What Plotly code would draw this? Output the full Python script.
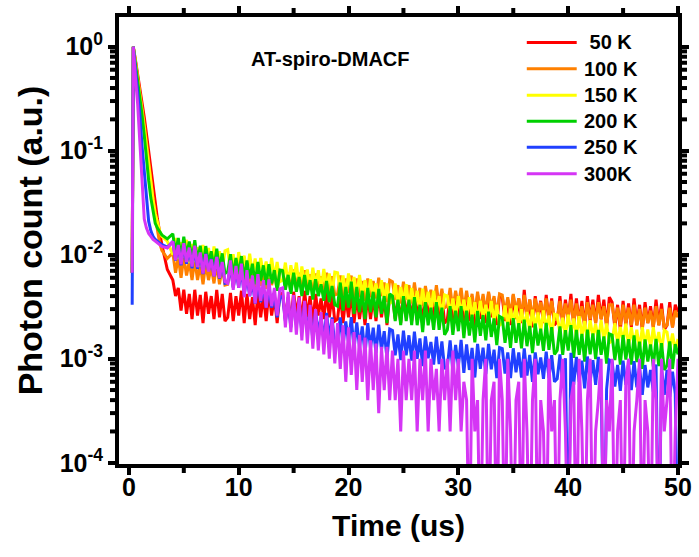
import plotly.graph_objects as go

# ---------------- data (photon count, in units of 1e-4; 0.1 = empty bin) ----------------
UNIT = 1e-4
TIME_EARLY = [0.3, 0.4, 0.6, 0.8, 1.0, 1.2, 1.4, 1.6, 1.8, 2.0, 2.2, 2.4, 2.6, 2.8, 3.0, 3.5]
TIME_LATE = [4.0 + 0.25 * i for i in range(185)]   # 4.0 ... 50.0 us, 0.25 us bins

LABELS = ["\u00a050 K", "100 K", "150 K", "200 K", "250 K", "300K"]
COLORS = ["#FF0000", "#FF8000", "#FFFF00", "#00D000", "#2040FF", "#D535F5"]

K50_EARLY = [67, 10000, 7400, 5500, 4100, 3100, 2100, 1450, 980, 680, 470, 320, 220, 165, 125, 72]
K50_LATE = [57, 40, 48, 29, 46, 27, 42, 24, 46, 26, 41, 22, 44, 27, 40, 24, 46, 25, 42, 23,
            25, 43, 23, 40, 26, 45, 22, 42, 24, 39, 21, 44, 25, 41, 23, 45, 26, 40, 22, 43,
            42, 24, 39, 22, 44, 26, 40, 23, 45, 25, 40, 22, 42, 26, 38, 24, 44, 25, 41, 23,
            24, 42, 22, 39, 25, 44, 22, 40, 24, 38, 21, 42, 24, 39, 23, 43, 25, 38, 21, 41,
            40, 24, 38, 22, 42, 25, 39, 23, 43, 24, 38, 21, 41, 25, 37, 23, 43, 24, 40, 22,
            24, 41, 22, 38, 24, 43, 21, 40, 23, 37, 20, 41, 24, 39, 22, 43, 25, 38, 21, 41,
            39, 23, 37, 21, 41, 24, 38, 22, 46, 23, 37, 20, 40, 25, 36, 22, 41, 23, 38, 21,
            23, 40, 21, 37, 24, 42, 21, 38, 22, 36, 20, 40, 23, 37, 22, 41, 24, 37, 20, 39,
            35, 20, 33, 19, 36, 21, 34, 20, 38, 21, 33, 19, 35, 22, 32, 20, 37, 21, 34, 19,
            21, 35, 20, 33, 28]

K100_EARLY = [67, 10000, 7200, 5200, 3800, 2700, 1800, 1200, 750, 500, 340, 230, 170, 130, 110, 92]
K100_LATE = [104, 67, 94, 60, 95, 63, 86, 57, 90, 57, 80, 52, 82, 57, 76, 53, 83, 52, 77, 51,
             52, 78, 49, 73, 53, 79, 48, 74, 50, 70, 46, 75, 50, 72, 47, 76, 51, 69, 45, 71,
             71, 48, 67, 44, 72, 48, 67, 45, 71, 46, 65, 42, 66, 46, 62, 43, 67, 43, 62, 41,
             42, 63, 40, 59, 43, 63, 38, 59, 39, 56, 36, 59, 39, 56, 38, 60, 40, 54, 35, 57,
             55, 37, 51, 34, 55, 37, 51, 34, 54, 35, 48, 32, 50, 35, 46, 32, 51, 32, 47, 31,
             32, 48, 30, 45, 32, 48, 29, 45, 30, 42, 27, 44, 29, 42, 28, 44, 30, 40, 26, 42,
             41, 27, 39, 26, 42, 28, 38, 26, 41, 26, 37, 24, 38, 27, 35, 25, 38, 25, 36, 24,
             24, 36, 23, 34, 25, 37, 22, 34, 23, 32, 21, 35, 24, 33, 22, 35, 24, 32, 21, 33,
             33, 22, 31, 21, 33, 22, 31, 21, 33, 21, 30, 20, 31, 22, 29, 20, 32, 21, 30, 20,
             21, 31, 20, 29, 25]

K150_EARLY = [67, 10000, 7000, 5000, 3600, 2500, 1650, 1100, 720, 480, 340, 250, 200, 170, 150, 135]
K150_LATE = [100, 145, 91, 132, 94, 139, 83, 127, 85, 118, 77, 124, 82, 116, 76, 120, 80, 108, 70, 109,
             112, 71, 101, 66, 106, 71, 98, 65, 102, 66, 92, 59, 93, 65, 86, 60, 93, 59, 85, 55,
             57, 84, 53, 79, 56, 84, 50, 77, 52, 72, 46, 75, 50, 71, 46, 73, 48, 66, 42, 68,
             67, 44, 63, 41, 66, 44, 61, 40, 64, 41, 57, 37, 58, 40, 53, 37, 57, 36, 53, 34,
             36, 53, 33, 49, 35, 52, 31, 48, 32, 45, 29, 47, 31, 44, 29, 45, 30, 40, 26, 41,
             40, 27, 38, 25, 40, 27, 37, 25, 39, 25, 35, 23, 36, 25, 33, 23, 36, 23, 33, 21,
             22, 32.5, 20.5, 30.3, 21.7, 32.5, 19.5, 29.9, 20.1, 28.1, 18.2, 29.6, 19.7, 27.8, 18.4, 29.1, 19.4, 26, 16.9, 26.8,
             26.2, 17.5, 24.8, 16.5, 26.5, 17.6, 24.4, 16.2, 25.6, 16.4, 23, 14.8, 23.4, 16.3, 21.6, 15.1, 23.5, 15, 21.8, 14.2,
             14.9, 21.9, 13.8, 20.3, 14.5, 21.8, 13, 20.1, 13.5, 19, 12.3, 20.1, 13.4, 19.1, 12.6, 20.1, 13.3, 18.1, 11.9, 18.8,
             18, 12.3, 17.5, 12, 15.5]

K200_EARLY = [67, 10000, 6800, 4800, 3300, 2200, 1400, 800, 520, 350, 250, 200, 180, 165, 155, 142]
K200_LATE = [159, 104, 145, 94, 149, 98, 134, 88, 138, 87, 122, 77, 121, 83, 108, 75, 114, 72, 103, 66,
             69, 101, 63, 93, 65, 97, 58, 88, 59, 82, 52, 85, 56, 79, 51, 81, 53, 71, 45, 71,
             70, 46, 64, 42, 67, 44, 61, 40, 64, 41, 57, 37, 58, 40, 52, 36, 56, 35, 50, 33,
             32, 54, 29, 49, 31, 55, 27, 49, 28, 45, 24, 48, 28, 44, 25, 47, 27, 40, 22, 42,
             40, 23, 37, 21, 40, 23, 37, 21, 39, 21, 33, 18, 35, 21, 31, 19, 35, 19, 31, 17,
             19, 32, 17, 29, 18.4, 32, 15.8, 29, 16.7, 26.5, 14.4, 28.8, 16.6, 26.3, 15, 28.3, 16.2, 24.4, 13.5, 25.5,
             24.7, 14.2, 22.6, 12.7, 24.5, 14.2, 22, 12.6, 23.8, 13.2, 20.7, 11.3, 21.8, 13.4, 19.4, 11.9, 22.1, 12.2, 20.1, 11,
             12, 20.4, 10.9, 18.8, 12, 21, 10.2, 18.9, 10.9, 17.3, 9.4, 19, 11, 17.5, 9.9, 18.9, 10.9, 16.4, 9, 17.3,
             16.9, 9.7, 15.5, 8.8, 16.9, 9.8, 15.4, 8.8, 16.8, 9.3, 14.6, 8, 15.3, 9.4, 13.7, 8.4, 15.5, 8.5, 14.1, 7.8,
             8.6, 14.7, 8, 13.8, 11]

K250_EARLY = [33, 10000, 6000, 3800, 2200, 1100, 620, 320, 210, 170, 150, 140, 135, 130, 125, 118]
K250_LATE = [134, 88, 122, 79, 123, 82, 112, 74, 115, 73, 101, 65, 102, 70, 91, 62, 95, 59, 84, 53,
             54, 78, 48, 70, 48, 71, 41, 62, 40, 55, 34, 54, 35, 49, 31, 48, 31, 40, 25, 39,
             40, 23, 35, 20, 37, 21, 32, 18, 34, 18, 28.5, 15.3, 29, 17.6, 25, 15.2, 27.6, 15.2, 25, 13.6,
             14.8, 25, 13.3, 22.8, 14.4, 25.1, 12.3, 22.4, 12.9, 20.4, 11.1, 22, 12.6, 19.9, 11.3, 21.3, 12.2, 18.4, 10.1, 19.3,
             18.7, 10.8, 17.1, 9.7, 18.6, 10.8, 16.8, 9.6, 18.2, 10, 15.7, 8.5, 16.4, 10.1, 14.5, 8.8, 16.3, 8.9, 14.7, 8,
             8.4, 15, 7.6, 13.6, 8.4, 15.2, 7.3, 13.7, 7.8, 12.7, 6.6, 13.9, 8, 12.8, 7.1, 13.9, 7.9, 12.2, 6.5, 12.8,
             12.5, 7.2, 11.5, 6.5, 12.6, 7.4, 11.5, 6.6, 12.6, 6.9, 10.9, 6, 11.5, 7.1, 10.3, 6.4, 11.7, 6.5, 10.8, 6,
             6.4, 11, 5.8, 10.1, 0.1, 11.4, 5.6, 10.4, 6, 9.6, 5.2, 10.5, 6.1, 9.7, 5.6, 10.4, 6.1, 0.1, 5.1, 9.7,
             9.4, 5.4, 8.7, 4.9, 9.6, 5.6, 8.8, 5, 9.5, 5.3, 8.3, 4.5, 8.7, 5.3, 7.8, 4.8, 8.8, 0.1, 8.1, 4.5,
             7.8, 4.3, 7.5, 4.6, 0.1]

K300_EARLY = [67, 10000, 5000, 2800, 1200, 500, 220, 180, 160, 150, 140, 135, 130, 125, 120, 116]
K300_LATE = [134, 89, 124, 81, 129, 85, 117, 77, 122, 76, 105, 66, 101, 69, 90, 62, 95, 60, 85, 55,
             53, 88, 46, 78, 48, 82, 39, 71, 40, 63, 34, 65, 36, 57, 31, 58, 32, 48, 26, 47,
             48, 20, 44, 18, 41, 17, 39, 15, 36, 14, 33, 12.5, 30, 12, 28, 11, 26, 10, 24, 9,
             22, 8, 21, 6, 20, 7, 18, 5, 17, 6, 16, 4, 15, 5, 14, 3, 13, 5, 13, 4,
             12, 4, 10, 2, 12, 4, 10, 4, 12, 2, 10, 4, 12, 2, 10, 4, 8, 2, 10, 4,
             10, 2, 12, 4, 10, 2, 6, 4, 0.1, 10, 2, 4, 0.1, 4, 10, 0.1, 4, 6, 0.1, 10,
             4, 0.1, 10, 2, 0.1, 4, 6, 0.1, 10, 2, 0.1, 4, 10, 0.1, 4, 2, 0.1, 10, 2, 4,
             0.1, 4, 10, 2, 0.1, 4, 6, 0.1, 10, 2, 0.1, 4, 10, 0.1, 2, 4, 10, 0.1, 4, 2,
             10, 0.1, 2, 4, 0.1, 6, 10, 0.1, 2, 4, 10, 0.1, 4, 2, 0.1, 10, 4, 0.1, 10, 2,
             4, 10, 0.1, 2, 10]

SERIES = [(K50_EARLY, K50_LATE), (K100_EARLY, K100_LATE), (K150_EARLY, K150_LATE),
          (K200_EARLY, K200_LATE), (K250_EARLY, K250_LATE), (K300_EARLY, K300_LATE)]

X_TICKS = [0, 10, 20, 30, 40, 50]
X_MINOR = [5, 15, 25, 35, 45]
Y_TICKS = [1e-4, 1e-3, 1e-2, 1e-1, 1]
Y_TICKTEXT = ["10<sup>-4</sup>", "10<sup>-3</sup>", "10<sup>-2</sup>", "10<sup>-1</sup>", "10<sup>0</sup>"]
Y_MINOR = [m * 10.0 ** e for e in range(-4, 0) for m in range(2, 10)]

# ---------------- styling ----------------
FONT = "Liberation Sans, Arial, sans-serif"
X_RANGE = [-0.9, 50]
Y_RANGE = [-4.012, 0.285]

fig = go.Figure()
time = TIME_EARLY + TIME_LATE
for (early, late), name, color in zip(SERIES, LABELS, COLORS):
    assert len(early) == len(TIME_EARLY) and len(late) == len(TIME_LATE)
    fig.add_trace(go.Scatter(
        x=time, y=[v * UNIT for v in early + late], mode="lines", name=name,
        line=dict(color=color, width=3), showlegend=False,
    ))

axis_common = dict(
    showline=True, linewidth=4, linecolor="black", mirror="ticks",
    ticks="outside", ticklen=7, tickwidth=4, tickcolor="black",
    showgrid=False, zeroline=False, automargin=False,
    tickfont=dict(family=FONT, size=25, color="black", weight="bold"),
)

shapes, annotations = [], []
# minor ticks (short marks just outside the 4 px frame, on all four sides)
MINOR_STYLE = dict(color="black", width=4)
for v in X_MINOR:
    for anchor, p0, p1 in ((0, -4, -9), (1, 4, 9)):
        shapes.append(dict(type="line", xref="x", yref="paper", ysizemode="pixel",
                           yanchor=anchor, x0=v, x1=v, y0=p0, y1=p1, line=MINOR_STYLE))
for v in Y_MINOR:
    for anchor, p0, p1 in ((0, -4, -9), (1, 4, 9)):
        shapes.append(dict(type="line", yref="y", xref="paper", xsizemode="pixel",
                           xanchor=anchor, y0=v, y1=v, x0=p0, x1=p1, line=MINOR_STYLE))

# manual legend (long line samples like the original)
LEG_X0, LEG_X1, LEG_TX = 0.7295, 0.8188, 0.8277
LEG_Y = [0.9432, 0.8844, 0.8247, 0.7665, 0.7084, 0.6496]
for name, color, yy in zip(LABELS, COLORS, LEG_Y):
    shapes.append(dict(type="line", xref="paper", yref="paper", x0=LEG_X0, x1=LEG_X1,
                       y0=yy, y1=yy, line=dict(color=color, width=3)))
    annotations.append(dict(text=name, xref="paper", yref="paper", x=LEG_TX, y=yy,
                            xanchor="left", yanchor="middle", showarrow=False,
                            font=dict(family=FONT, size=20, color="black", weight="bold")))
annotations.append(dict(
    text="AT-spiro-DMACF", xref="paper", yref="paper", x=0.3777, y=0.9068,
    xanchor="center", yanchor="middle", showarrow=False,
    font=dict(family=FONT, size=20, color="black", weight="bold"),
))

fig.update_layout(
    width=699, height=557,
    margin=dict(l=118.5, r=20.5, t=17.3, b=92.5),
    paper_bgcolor="white", plot_bgcolor="white",
    showlegend=False,
    xaxis=dict(
        range=X_RANGE, tickmode="array", tickvals=X_TICKS, ticklabelstandoff=-9,
        title=dict(text="Time (us)", font=dict(family=FONT, size=30, color="black", weight="bold"),
                   standoff=16),
        **axis_common,
    ),
    yaxis=dict(
        type="log", range=Y_RANGE, tickmode="array", tickvals=Y_TICKS, ticktext=Y_TICKTEXT,
        title=dict(text="Photon count (a.u.)", font=dict(family=FONT, size=34, color="black", weight="bold"),
                   standoff=8),
        **axis_common,
    ),
    shapes=shapes,
    annotations=annotations,
)

fig.write_html("out.html")
